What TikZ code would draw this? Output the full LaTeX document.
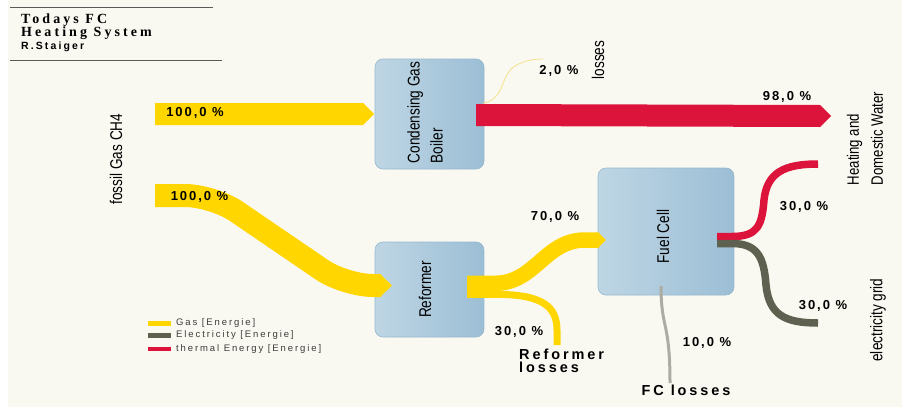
\documentclass[tikz,border=0pt]{standalone}
\usepackage{fontspec}
\setmainfont{Liberation Serif}
\newfontfamily\narrowfont{Liberation Sans}[FakeStretch=0.8]
\newfontfamily\pctfont{Liberation Sans}[LetterSpace=15]
\newfontfamily\sinkfont{Liberation Sans}[LetterSpace=20]
\newfontfamily\titlefont{Liberation Serif}[LetterSpace=22]
\newfontfamily\legendfont{Liberation Sans}[LetterSpace=20]
\usetikzlibrary{arrows}
\definecolor{paper}{RGB}{250,249,241}
\definecolor{gasyellow}{RGB}{255,214,0}
\definecolor{heatred}{RGB}{220,20,60}
\definecolor{elecgray}{RGB}{95,97,80}
\definecolor{fclossgray}{RGB}{172,172,164}
\definecolor{boilerloss}{RGB}{244,224,138}
\definecolor{boxlight}{RGB}{190,214,228}
\definecolor{boxdark}{RGB}{156,190,213}
\definecolor{boxedge}{RGB}{150,184,208}
\definecolor{legendgray}{RGB}{60,60,60}
\definecolor{rulegray}{RGB}{90,90,90}

\begin{document}
\begin{tikzpicture}[x=1pt,y=-1pt,line join=round,
    fcbox/.style={draw=boxedge,line width=0.6pt,rounded corners=8pt,left color=boxlight,right color=boxdark,inner sep=0pt},
    boxtext/.style={rotate=90,align=left,font=\narrowfont\fontsize{17}{23}\selectfont,inner sep=0pt},
    pct/.style={font=\pctfont\bfseries\fontsize{13}{15}\selectfont,inner sep=0pt},
    sinklabel/.style={font=\sinkfont\bfseries\fontsize{14.5}{13.5}\selectfont,inner sep=0pt,align=left},
    titletext/.style={anchor=base west,inner sep=0pt,font=\titlefont\bfseries\fontsize{14}{16}\selectfont},
    legendtext/.style={font=\legendfont\fontsize{9.5}{11}\selectfont,text=legendgray,anchor=west,inner sep=0pt}]
    \useasboundingbox (0,0) rectangle (902,407);
    \fill[paper] (8,0) rectangle (902,407);
    % title block
    \draw[rulegray,line width=0.8pt] (10,7) -- (213,7);
    \draw[rulegray,line width=0.8pt] (10,60) -- (222,60);
    \node[titletext] (title1) at (21,23) {Todays FC};
    \node[titletext] (title2) at (21,36.8) {Heating System};
    \node[anchor=base west,inner sep=0pt,font=\sinkfont\bfseries\fontsize{10.5}{12}\selectfont] (author) at (21,49.5) {R.Staiger};
    % units
    \node[fcbox,minimum width=109pt,minimum height=110pt] (boiler) at (429.5,114) {};
    \node[fcbox,minimum width=109pt,minimum height=95pt] (reformer) at (429.5,289.5) {};
    \node[fcbox,minimum width=136pt,minimum height=127pt] (fuelcell) at (666,231.5) {};
    \node[boxtext] (boilertext) at (425,112.5) {Condensing Gas\\Boiler};
    \node[boxtext] (reformertext) at (425,289.5) {Reformer};
    \node[boxtext] (fuelcelltext) at (663,236.5) {Fuel Cell};
    % gas to boiler
    \fill[gasyellow] (155,103) -- (363,103) -- (374,114) -- (363,125) -- (155,125) -- cycle;
    % gas to reformer
    \draw[gasyellow,line width=23pt,rounded corners=28pt] (155,195.5) -- (213,195.5) -- (345,285.5) -- (381,285.5);
    \fill[gasyellow] (380,274) -- (392,285.5) -- (380,297) -- cycle;
    % boiler output
    \fill[heatred] (476,104) -- (820,105) -- (831,116) -- (820,127) -- (476,126) -- cycle;
    \draw[boilerloss,line width=0.8pt] (483,103) .. controls (505,100) and (500,75) .. (515,66) .. controls (525,60) and (535,59) .. (543,59);
    % reformer output
    \draw[gasyellow,line width=15.5pt] (467,283.3) -- (495,283.3) .. controls (535,283.3) and (545,240) .. (585,240) -- (599,240);
    \fill[gasyellow] (598,232.3) -- (606,240) -- (598,247.7) -- cycle;
    \draw[gasyellow,line width=7pt] (467,294.3) -- (495,294.3) .. controls (540,294.3) and (557,305) .. (557,330) -- (557,345);
    % fuel cell output
    \draw[heatred,line width=7.5pt] (717,236.5) -- (732,236.5) .. controls (758,236.5) and (762,225) .. (764,200) .. controls (767,172) and (785,164) .. (818,164);
    \draw[elecgray,line width=7.5pt] (717,243.5) -- (732,243.5) .. controls (758,243.5) and (764,258) .. (766,285) .. controls (769,315) and (785,323) .. (818,323);
    \draw[fclossgray,line width=3pt] (661,286) .. controls (661,330) and (670,320) .. (670,383);
    % labels
    \node[boxtext] (source) at (116,159) {fossil Gas CH4};
    \node[boxtext] (lossestext) at (598,60) {losses};
    \node[boxtext,font=\narrowfont\fontsize{16.5}{24}\selectfont] (heating) at (865,138.5) {Heating and\\Domestic Water};
    \node[boxtext] (grid) at (878,320) {electricity grid};
    \node[pct] (pgasboiler) at (195,113) {100,0 \%};
    \node[pct] (pgasreformer) at (199.5,197) {100,0 \%};
    \node[pct] (pboilerloss) at (559,71) {2,0 \%};
    \node[pct] (pboilerheat) at (787,97) {98,0 \%};
    \node[pct] (preformergas) at (555,217) {70,0 \%};
    \node[pct] (preformerloss) at (519,332) {30,0 \%};
    \node[pct] (pfcheat) at (804,207) {30,0 \%};
    \node[pct] (pfcelec) at (823,306) {30,0 \%};
    \node[pct] (pfcloss) at (707,343) {10,0 \%};
    \node[sinklabel,anchor=west] (reformerloss) at (519,361) {Reformer\\losses};
    \node[sinklabel] (fcloss) at (686,390) {FC losses};
    % legend
    \foreach \y/\c/\t [count=\i] in {323.5/gasyellow/Gas [Energie],335.5/elecgray/Electricity [Energie],349/heatred/thermal Energy [Energie]}
    {
      \fill[\c] (148,\y-2.3) rectangle (171,\y+2.3);
      \node[legendtext] (legend\i) at (176,\y) {\t};
    }
\end{tikzpicture}
\end{document}
